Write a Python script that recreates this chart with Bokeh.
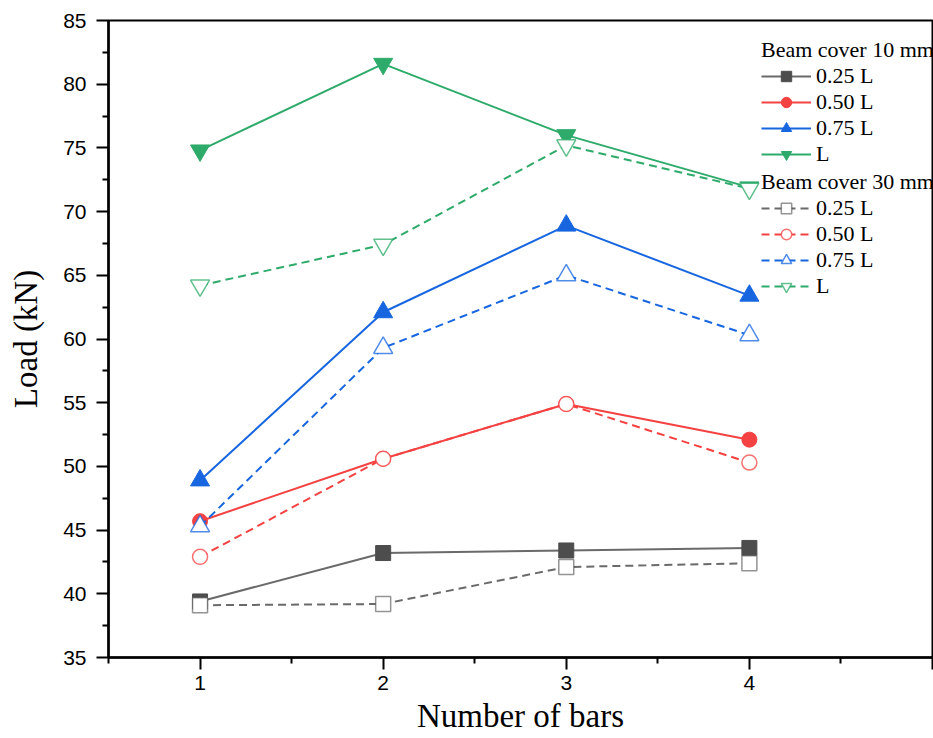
from bokeh.plotting import figure
from bokeh.models import Legend, LegendItem, FixedTicker, Range1d
from bokeh.embed import file_html
from bokeh.resources import INLINE

# ---- data ----
bars = [1, 2, 3, 4]
series_labels = ["0.25 L", "0.50 L", "0.75 L", "L"]
cover10_025 = [39.4, 43.2, 43.4, 43.6]
cover10_050 = [45.7, 50.6, 54.9, 52.1]
cover10_075 = [48.9, 62.1, 68.9, 63.4]
cover10_100 = [74.8, 81.6, 76.0, 71.9]
cover30_025 = [39.1, 39.2, 42.1, 42.4]
cover30_050 = [42.9, 50.6, 54.9, 50.3]
cover30_075 = [45.3, 59.3, 65.0, 60.3]
cover30_100 = [64.2, 67.4, 75.2, 71.8]
y_ticks = [35, 40, 45, 50, 55, 60, 65, 70, 75, 80, 85]
x_ticks = [1, 2, 3, 4, 5]

colors = ["#4d4d4d", "#f44242", "#1766e0", "#2eab6a"]
line_colors = ["#6a6a6a", "#f44242", "#1766e0", "#2eab6a"]
markers = ["square", "circle", "triangle", "inverted_triangle"]
msizes = [15, 15, 19, 19]

p = figure(width=933, height=738, output_backend="svg", toolbar_location=None,
           x_range=Range1d(0.5, 5.0), y_range=Range1d(35, 85),
           min_border_left=108, min_border_right=1, min_border_top=20, min_border_bottom=81)
p.grid.visible = False
p.outline_line_color = "black"
p.outline_line_width = 2
p.background_fill_color = "white"
p.border_fill_color = "white"

for ax in (p.xaxis[0], p.yaxis[0]):
    ax.axis_line_width = 2.5
    ax.axis_line_color = "black"
    ax.major_tick_line_width = 2
    ax.minor_tick_line_width = 2
    ax.major_tick_out = 12
    ax.major_tick_in = 0
    ax.minor_tick_out = 6
    ax.minor_tick_in = 0
    ax.major_label_text_font = "Liberation Sans"
    ax.major_label_text_font_size = "21px"
    ax.major_label_text_color = "black"
    ax.axis_label_text_font = "Liberation Serif"
    ax.axis_label_text_font_size = "33px"
    ax.axis_label_text_font_style = "normal"
    ax.axis_label_text_color = "black"

p.xaxis[0].ticker = FixedTicker(ticks=x_ticks, minor_ticks=[0.5, 1.5, 2.5, 3.5, 4.5])
p.xaxis[0].major_label_overrides = {5: ""}
p.yaxis[0].ticker = FixedTicker(ticks=y_ticks, minor_ticks=[t + 2.5 for t in y_ticks[:-1]])
p.xaxis[0].axis_label = "Number of bars"
p.yaxis[0].axis_label = "Load (kN)"
p.xaxis[0].major_label_standoff = 6
p.xaxis[0].axis_label_standoff = 5
p.yaxis[0].major_label_standoff = 10
p.yaxis[0].axis_label_standoff = 16

cover10 = [cover10_025, cover10_050, cover10_075, cover10_100]
cover30 = [cover30_025, cover30_050, cover30_075, cover30_100]

items10 = []
for vals, lab, c, lc, m, s in zip(cover10, series_labels, colors, line_colors, markers, msizes):
    lr = p.line(bars, vals, line_color=lc, line_width=2)
    sr = p.scatter(bars, vals, marker=m, size=s, fill_color=c, line_color=c, line_width=1)
    items10.append(LegendItem(label=lab, renderers=[lr, sr]))

items30 = []
for vals, lab, c, lc, m, s in zip(cover30, series_labels, colors, line_colors, markers, msizes):
    lr = p.line(bars, vals, line_color=lc, line_width=2, line_dash="8 5")
    sr = p.scatter(bars, vals, marker=m, size=s, fill_color="white", line_color=c,
                   line_width=1.5, line_alpha=0.75 if c != colors[0] else 0.6)
    items30.append(LegendItem(label=lab, renderers=[lr, sr]))


def make_legend(items, title, loc):
    lg = Legend(items=items, title=title, location=loc)
    lg.glyph_width = 50
    lg.glyph_height = 26
    lg.label_height = 26
    lg.spacing = 0
    lg.label_standoff = 5
    lg.padding = 0
    lg.margin = 0
    lg.border_line_alpha = 0
    lg.background_fill_alpha = 0
    lg.label_text_font = "Liberation Serif"
    lg.label_text_font_size = "22px"
    lg.label_text_color = "black"
    lg.title_text_font = "Liberation Serif"
    lg.title_text_font_size = "22px"
    lg.title_text_font_style = "normal"
    lg.title_text_color = "black"
    lg.title_standoff = 0
    lg.click_policy = "none"
    return lg


p.add_layout(make_legend(items10, "Beam cover 10 mm", (653, 490)))
p.add_layout(make_legend(items30, "Beam cover 30 mm", (653, 358)))

open("out.html", "w").write(file_html(p, INLINE))
